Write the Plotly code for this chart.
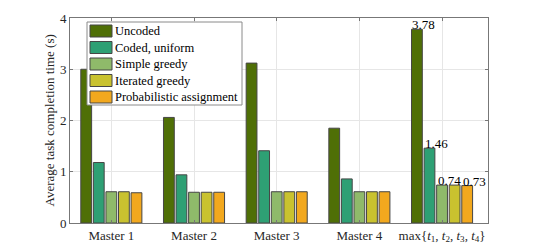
import plotly.graph_objects as go

categories = ["Master 1", "Master 2", "Master 3", "Master 4",
              "max{<i>t</i><sub>1</sub>, <i>t</i><sub>2</sub>, <i>t</i><sub>3</sub>, <i>t</i><sub>4</sub>}"]
series_names = ["Uncoded", "Coded, uniform", "Simple greedy", "Iterated greedy", "Probabilistic assignment"]
uncoded = [3.00, 2.06, 3.12, 1.85, 3.78]
coded_uniform = [1.18, 0.94, 1.41, 0.86, 1.46]
simple_greedy = [0.61, 0.60, 0.61, 0.61, 0.74]
iterated_greedy = [0.61, 0.60, 0.61, 0.61, 0.74]
probabilistic = [0.59, 0.60, 0.61, 0.61, 0.73]
colors = ["#4f6f06", "#2ea074", "#8fba6a", "#c9c22f", "#f2a81e"]
# which bars of the last group carry a value label
labelled = [True, True, True, False, True]
y_title = "Average task completion time (s)"

series = [uncoded, coded_uniform, simple_greedy, iterated_greedy, probabilistic]

# the page body adds an 8px offset; figure is sized so the plot lands where the reference has it
OFF = 8
W, H = 532, 243
ml, mr, mt, mb = 70 - OFF, 52, 18 - OFF, 28
bargap, bargroupgap = 0.24, 0.14
FONT = "Liberation Serif"
EDGE = "#464646"

fig = go.Figure()
for name, vals, c in zip(series_names, series, colors):
    fig.add_trace(go.Bar(x=categories, y=vals, name=name, showlegend=False,
                         marker=dict(color=c, line=dict(color=EDGE, width=1))))

plot_w = W - ml - mr
plot_h = H - mt - mb

# value labels for last group
cat_w = plot_w / len(categories)
slot = (1 - bargap) * cat_w / len(series)
for i, (vals, lab) in enumerate(zip(series, labelled)):
    if not lab:
        continue
    left = -(1 - bargap) * cat_w / 2 + i * slot + slot * bargroupgap / 2
    fig.add_annotation(x=categories[-1], y=vals[-1], text=f"{vals[-1]:.2f}",
                       xanchor="left", yanchor="bottom", showarrow=False,
                       xshift=left - 1, yshift=-5,
                       font=dict(family=FONT, size=13, color="#000"))

# helpers: page pixel -> paper coordinate
def px_x(p):
    return (p - OFF - ml) / plot_w

def px_y(p):
    return 1 - (p - OFF - mt) / plot_h

# y-axis title
fig.add_annotation(xref="paper", yref="paper", x=px_x(49), y=0.5, text=y_title,
                   textangle=-90, showarrow=False, xanchor="center", yanchor="middle",
                   font=dict(family=FONT, size=13, color="#262626"))

# legend box
shapes = [dict(type="rect", xref="paper", yref="paper",
               x0=px_x(87), x1=px_x(242), y0=px_y(105), y1=px_y(22),
               fillcolor="white", line=dict(color="#8a8a8a", width=1), layer="above")]
pitch = 16.5
for i, (name, c) in enumerate(zip(series_names, colors)):
    top = 25 + i * pitch
    shapes.append(dict(type="rect", xref="paper", yref="paper",
                       x0=px_x(90), x1=px_x(112), y0=px_y(top + 12), y1=px_y(top),
                       fillcolor=c, line=dict(color=EDGE, width=1), layer="above"))
    fig.add_annotation(xref="paper", yref="paper", x=px_x(113), y=px_y(top + 6),
                       text=name, xanchor="left", yanchor="middle", showarrow=False,
                       font=dict(family=FONT, size=12.5, color="#000"))

axis_common = dict(showline=True, linecolor="#777777", linewidth=1, mirror="ticks",
                   ticks="inside", ticklen=3, tickcolor="#777777",
                   gridcolor="#e6e6e6", gridwidth=1, zeroline=False, automargin=False)

fig.update_layout(
    width=W, height=H,
    margin=dict(l=ml, r=mr, t=mt, b=mb),
    plot_bgcolor="white", paper_bgcolor="white",
    barmode="group", bargap=bargap, bargroupgap=bargroupgap,
    font=dict(family=FONT, size=13, color="#262626"),
    showlegend=False,
    shapes=shapes,
    xaxis=dict(**axis_common, tickfont=dict(size=13, color="#262626")),
    yaxis=dict(**axis_common, range=[0, 4], dtick=1,
               tickfont=dict(size=13, color="#262626")),
)

fig.write_html("out.html")
